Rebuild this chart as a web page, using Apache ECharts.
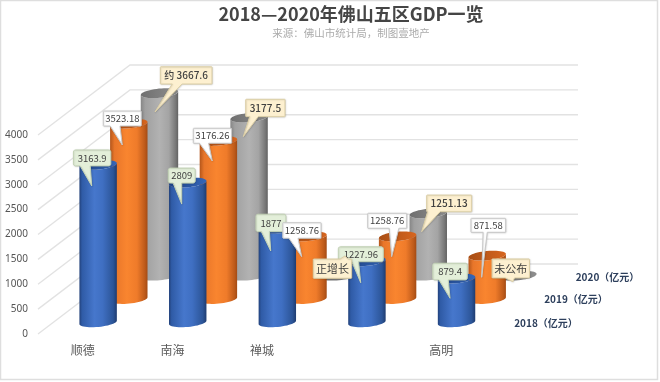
<!DOCTYPE html>
<html><head><meta charset="utf-8">
<style>html,body{margin:0;padding:0;background:#fff}#c{width:660px;height:382px}</style>
<script src="https://cdn.jsdelivr.net/npm/echarts@6/dist/echarts.min.js"></script>
</head><body><div id="c"></div>
<script>
const categories = ['顺德', '南海', '禅城', '', '高明'];
const yTicks = [0, 500, 1000, 1500, 2000, 2500, 3000, 3500, 4000];
const seriesNames = ['2018（亿元）', '2019（亿元）', '2020（亿元）'];
const values2018 = [3163.9, 2809, 1877, 1227.96, 879.4];
const values2019 = [3523.18, 3176.26, 1258.76, 1258.76, 871.58];
const values2020 = [3667.6, 3177.5, 0, 1251.13, 0];
const labels2018 = ['3163.9', '2809', '1877', '1227.96', '879.4'];
const labels2019 = ['3523.18', '3176.26', '1258.76', '1258.76', '871.58'];
const labels2020 = ['约 3667.6', '3177.5', '正增长', '1251.13', '未公布'];

// ---- presentation only ----
const DEPTH_X = 92, DEPTH_Y = -70, RX = 18.8, RY = 4.6, TILT = -5.5 * Math.PI / 180;
const font = '"Noto Sans CJK SC","Noto Sans",sans-serif';
const styles = [
  { depth: 1 / 6,
    body: [[0,'#22417a'],[.07,'#2f5ba6'],[.4,'#4677cc'],[.62,'#3f6fc2'],[.9,'#2c5598'],[1,'#1f3c70']],
    top: [[0,'#1f4488'],[1,'#3566b8']],
    box: '#e3efd9', edge: '#c3d3b6' },
  { depth: 3 / 6,
    body: [[0,'#b4561b'],[.12,'#e8762a'],[.45,'#f9852f'],[.72,'#ef7b2a'],[.93,'#bd5a1a'],[1,'#a34b14']],
    top: [[0,'#a84e15'],[1,'#d7661f']],
    box: '#ffffff', edge: '#c9c9c9' },
  { depth: 5 / 6,
    body: [[0,'#868686'],[.12,'#a0a0a0'],[.5,'#b2b2b2'],[.75,'#a4a4a4'],[.93,'#787878'],[1,'#626262']],
    top: [[0,'#6f6f6f'],[1,'#8e8e8e']],
    box: '#fdf0d0', edge: '#dccfa6' }
];
// callout geometry relative to the top of its cylinder:
// [box centre dx, box centre dy, box w, box h, tip dx, tip dy, notch start, notch end, font size, bold]
const calloutLayouts = [
  [[-6,-7,37.4,16,-6.4,21,.18,.45,9.5,0],[-6,-7,27,15,-6,21.5,.18,.5,9.5,0],[-6.4,-6,30,17.5,-6.6,22,.18,.45,9.5,0],[-6.1,-7,45,15,-6.2,21.5,.3,.45,9.5,0],[-6.5,-7,34.6,16.7,-6.5,19.7,.18,.45,9.5,0]],
  [[-6.5,-5.2,38,15,-6.5,21.3,.18,.44,9.5,0],[-5.9,-5.2,38.4,15,-6.1,20,.16,.4,9.5,0],[-6.1,-5.9,38.3,15.6,-6.3,20.3,.16,.4,9.5,0],[-10.4,-15.6,39,15,-5.9,20.3,.55,.8,9.5,0],[1.1,-30.3,34.7,14,-5.5,21.7,.35,.47,9.5,0]],
  [[26.7,-17.8,51.7,17.3,-4.5,18.8,.23,.42,10,1],[16.3,-9.6,39.3,17.4,-5.8,19.1,.1,.32,10,1],[-6.2,-7,38.4,19.3,6.3,-19.7,.7,.9,11,0],[20.9,-10,45,16.7,-6.6,18.3,.02,.3,10,1],[-7.1,-7.2,37.5,19,-5,6,.35,.6,11,0]]
];
const seriesValues = [values2018, values2019, values2020];
const seriesLabels = [labels2018, labels2019, labels2020];

function ellipsePt(cx, cy, t) {
  const a = RX * Math.cos(t), b = RY * Math.sin(t);
  return [cx + a * Math.cos(TILT) - b * Math.sin(TILT), cy + a * Math.sin(TILT) + b * Math.cos(TILT)];
}
function grad(stops) {
  return { type: 'linear', x: 0, y: 0, x2: 1, y2: 0,
    colorStops: stops.map(s => ({ offset: s[0], color: s[1] })) };
}
function depthOffset(s) { return [DEPTH_X * styles[s].depth, DEPTH_Y * styles[s].depth]; }

function cylinderRenderer(s) {
  return function (params, api) {
    const off = depthOffset(s);
    const base = api.coord([api.value(0), 0]);
    const topP = api.coord([api.value(0), api.value(1)]);
    const cx = base[0] + off[0], by = base[1] + off[1], ty = topP[1] + off[1];
    const N = 24, body = [], top = [];
    for (let i = 0; i <= N; i++) body.push(ellipsePt(cx, by, Math.PI * i / N));
    for (let i = N; i >= 0; i--) body.push(ellipsePt(cx, ty, Math.PI * i / N));
    for (let i = 0; i < N * 2; i++) top.push(ellipsePt(cx, ty, Math.PI * i / N));
    const children = [];
    if (api.value(1) > 0) children.push({ type: 'polygon', shape: { points: body }, style: { fill: grad(styles[s].body) } });
    children.push({ type: 'polygon', shape: { points: top }, style: { fill: grad(styles[s].top) } });
    return { type: 'group', children };
  };
}

function calloutPoints(x0, y0, x1, y1, tip, n0, n1, r) {
  const pts = [];
  const arc = (cx, cy, a0) => { for (let k = 0; k <= 3; k++) { const a = a0 + k / 3 * Math.PI / 2; pts.push([cx + r * Math.cos(a), cy + r * Math.sin(a)]); } };
  const w = x1 - x0;
  arc(x0 + r, y0 + r, Math.PI);
  if (tip[1] < y0) { pts.push([x0 + w * n0, y0], tip, [x0 + w * n1, y0]); }
  arc(x1 - r, y0 + r, -Math.PI / 2);
  arc(x1 - r, y1 - r, 0);
  if (tip[1] >= y0) { pts.push([x0 + w * n1, y1], tip, [x0 + w * n0, y1]); }
  arc(x0 + r, y1 - r, Math.PI / 2);
  return pts;
}

function calloutRenderer(params, api) {
  const s = api.value(2), i = api.value(0);
  const off = depthOffset(s), L = calloutLayouts[s][i];
  const p = api.coord([i, api.value(1)]);
  const cx = p[0] + off[0], cy = p[1] + off[1];
  const bx = cx + L[0], by = cy + L[1];
  const tip = [cx + L[4], cy + L[5]];
  const x0 = bx - L[2] / 2, x1 = bx + L[2] / 2, y0 = by - L[3] / 2, y1 = by + L[3] / 2;
  return { type: 'group', children: [
    { type: 'polygon', shape: { points: calloutPoints(x0, y0, x1, y1, tip, L[6], L[7], s === 0 ? 2 : 0.5) },
      style: { fill: styles[s].box, stroke: styles[s].edge, lineWidth: 1,
        shadowBlur: 1.5, shadowColor: 'rgba(0,0,0,.14)', shadowOffsetX: 0.5, shadowOffsetY: 0.5 } },
    { type: 'text', style: { x: bx, y: by, text: seriesLabels[s][i], align: 'center', verticalAlign: 'middle',
        fill: '#404040', font: (L[9] ? '500 ' : '') + L[8] + 'px ' + font } }
  ] };
}

function wallRenderer(params, api) {
  const g = params.coordSys;
  const y = api.coord([0, api.value(0)])[1];
  return { type: 'polyline',
    shape: { points: [[g.x, y], [g.x + DEPTH_X, y + DEPTH_Y], [g.x + g.width + DEPTH_X, y + DEPTH_Y]] },
    style: { fill: null, stroke: '#e2e2e2', lineWidth: 1.3 } };
}

const calloutData = [];
seriesValues.forEach((vals, s) => vals.forEach((v, i) => calloutData.push([i, v, s])));

const series = [
  { type: 'custom', name: 'wall', renderItem: wallRenderer, silent: true, clip: false,
    data: yTicks.map(t => [t]), encode: { y: 0 }, z: 1 }
];
[2, 1, 0].forEach(s => series.push({
  type: 'custom', name: seriesNames[s], renderItem: cylinderRenderer(s), clip: false, z: 2 + (2 - s),
  data: seriesValues[s].map((v, i) => [i, v]), encode: { x: 0, y: 1 }
}));
series.push({ type: 'custom', name: 'callouts', renderItem: calloutRenderer, clip: false, z: 10,
  data: calloutData, encode: { x: 0, y: 1 } });

const seriesLabelPos = [[546, 323], [576, 299.5], [607.5, 277]];

const chart = echarts.init(document.getElementById('c'), null, { renderer: 'canvas' });
chart.setOption({
  animation: false,
  backgroundColor: '#ffffff',
  title: {
    left: 346, top: 0, textAlign: 'center', itemGap: 5,
    text: '2018—2020年佛山五区GDP一览',
    subtext: '来源：佛山市统计局，制图壹地产',
    textStyle: { fontFamily: font, fontSize: 18, fontWeight: 'bold', color: '#454545' },
    subtextStyle: { fontFamily: font, fontSize: 10.5, color: '#ababab' }
  },
  grid: { left: 38, width: 448, top: 135, height: 199 },
  xAxis: { type: 'category', data: categories, axisLine: { show: false }, axisTick: { show: false },
    axisLabel: { margin: 10, fontFamily: font, fontSize: 12, color: '#595959', interval: 0 } },
  yAxis: { type: 'value', min: 0, max: 4000, interval: 500, splitLine: { show: false },
    axisLine: { show: false }, axisTick: { show: false },
    axisLabel: { margin: 10, fontFamily: '"Noto Sans",sans-serif', fontSize: 10, color: '#555555',
      formatter: v => String(v) } },
  series,
  graphic: [
    { type: 'rect', shape: { x: 0.5, y: 0.5, width: 657, height: 379 }, silent: true, z: -1,
      style: { fill: '#fff', stroke: '#dedede', lineWidth: 1.5 } }
  ].concat(seriesNames.map((n, s) => ({
    type: 'text', x: seriesLabelPos[s][0], y: seriesLabelPos[s][1], silent: true, z: 20,
    style: { text: n, align: 'center', verticalAlign: 'middle', fill: '#2d3f5c',
      font: 'bold 10px ' + font }
  })))
});
</script></body></html>
